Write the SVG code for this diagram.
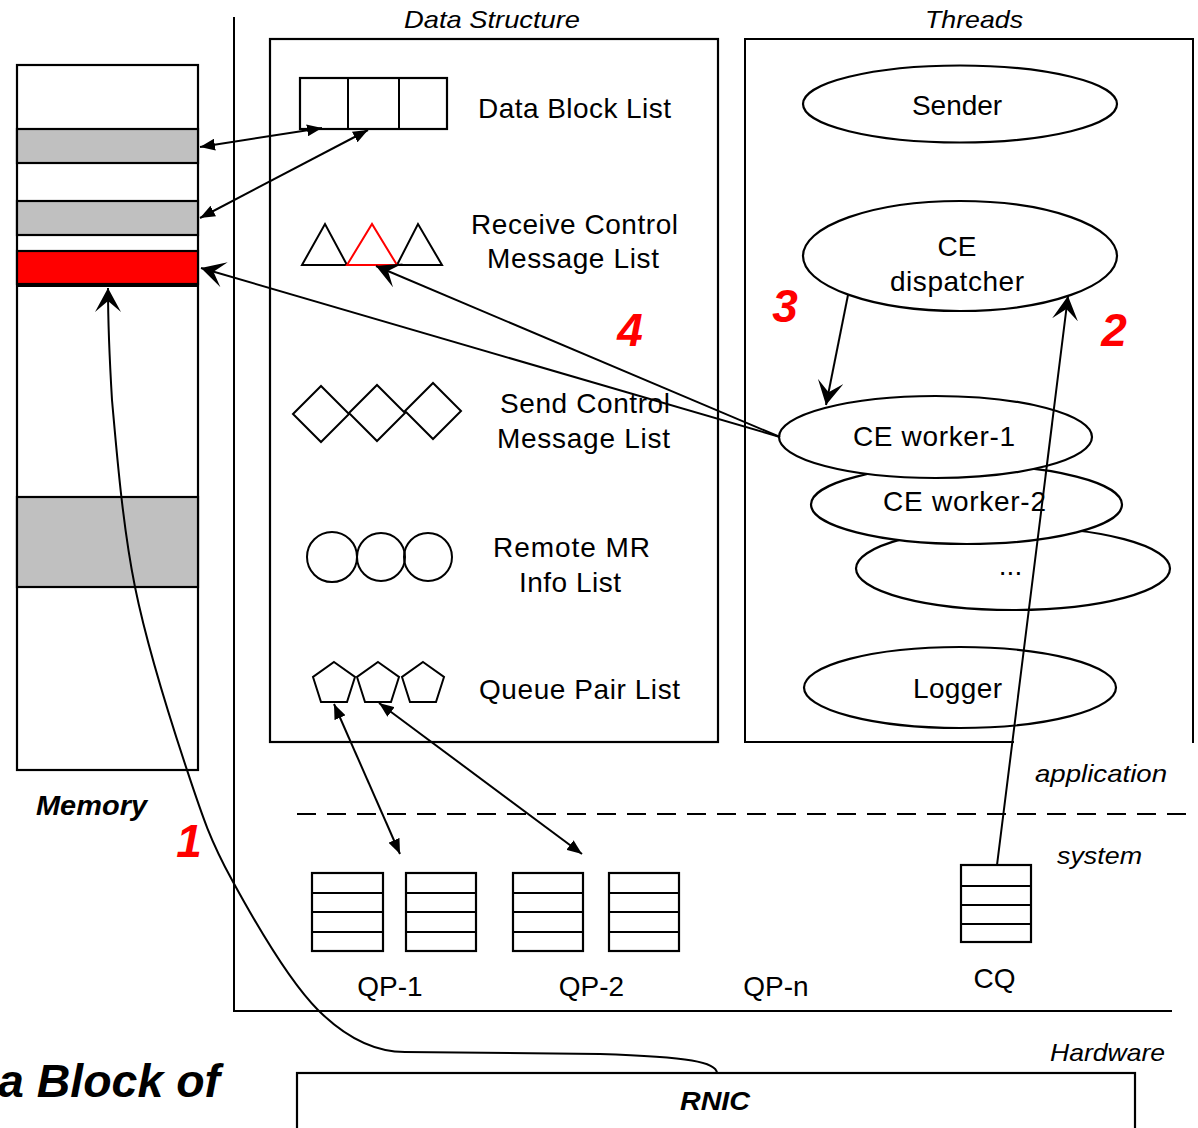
<svg xmlns="http://www.w3.org/2000/svg" width="1198" height="1128" viewBox="0 0 1198 1128">
<style>
.ln{fill:none;stroke:#000;stroke-width:2}
.bx{fill:#fff;stroke:#000;stroke-width:2.2}
.t{font-family:"Liberation Sans",Arial,sans-serif;font-size:28px;fill:#000;text-anchor:middle}
.ti{font-family:"Liberation Sans",Arial,sans-serif;font-size:24px;font-style:italic;fill:#000;text-anchor:middle}
.tb{font-family:"Liberation Sans",Arial,sans-serif;font-weight:bold;font-style:italic;fill:#000}
.num{font-family:"Liberation Sans",Arial,sans-serif;font-weight:bold;font-style:italic;font-size:46px;fill:#f00;text-anchor:middle}
</style>
<defs>
<marker id="blk" viewBox="0 0 15 12" refX="15" refY="6" markerWidth="15" markerHeight="12" markerUnits="userSpaceOnUse" orient="auto-start-reverse">
<path d="M0,0 L15,6 L0,12 Z" fill="#000"/>
</marker>
<marker id="stl" viewBox="0 0 24 26" refX="24" refY="13" markerWidth="24" markerHeight="26" markerUnits="userSpaceOnUse" orient="auto">
<path d="M24,13 L0,0 L11,13 L0,26 Z" fill="#000"/>
</marker>
</defs>
<rect width="1198" height="1128" fill="#fff"/>

<g id="frame">
<line class="ln" x1="234" y1="17" x2="234" y2="1011"/>
<line class="ln" x1="233" y1="1011" x2="1172" y2="1011"/>
<line class="ln" x1="297" y1="814" x2="1190" y2="814" stroke-dasharray="19,11"/>
</g>

<g id="memory">
<rect class="bx" x="17" y="65" width="181" height="705"/>
<rect x="17" y="129" width="181" height="34" fill="#c0c0c0" stroke="#000" stroke-width="2.2"/>
<rect x="17" y="201" width="181" height="34" fill="#c0c0c0" stroke="#000" stroke-width="2.2"/>
<rect x="17" y="251" width="181" height="33" fill="#f00" stroke="#000" stroke-width="2.2"/>
<line class="ln" x1="17" y1="286" x2="198" y2="286"/>
<rect x="17" y="497" width="181" height="90" fill="#c0c0c0" stroke="#000" stroke-width="2.2"/>
<text class="tb" x="91.5" y="815" font-size="27" text-anchor="middle" textLength="111" lengthAdjust="spacingAndGlyphs">Memory</text>
</g>

<g id="data-structure">
<rect class="bx" x="270" y="39" width="448" height="703"/>
<text class="ti" x="492" y="28" textLength="176" lengthAdjust="spacingAndGlyphs">Data Structure</text>
</g>

<g id="data-block-list">
<rect class="bx" x="300" y="78" width="147" height="51"/>
<line class="ln" x1="348" y1="78" x2="348" y2="129"/>
<line class="ln" x1="399" y1="78" x2="399" y2="129"/>
<text class="t" x="574.5" y="118" textLength="193">Data Block List</text>
</g>

<g id="receive-control-list">
<path class="ln" d="M302,265 L325,224 L347,265 Z"/>
<path class="ln" d="M397,265 L418,224 L442,265 Z"/>
<path d="M347,265 L372,224 L397,265 Z" fill="none" stroke="#f00" stroke-width="2"/>
<text class="t" x="574.5" y="234" textLength="207">Receive Control</text>
<text class="t" x="573" y="268" textLength="172">Message List</text>
</g>

<g id="send-control-list">
<path class="ln" d="M293,414 L321,386 L349,414 L321,442 Z"/>
<path class="ln" d="M349,413 L377,385 L405,413 L377,441 Z"/>
<path class="ln" d="M405,411 L433,383 L461,411 L433,439 Z"/>
<text class="t" x="585" y="413" textLength="170">Send Control</text>
<text class="t" x="583.5" y="448" textLength="173">Message List</text>
</g>

<g id="remote-mr-list">
<circle class="ln" cx="332" cy="557" r="25"/>
<circle class="ln" cx="381" cy="557" r="24"/>
<circle class="ln" cx="428" cy="557" r="24"/>
<text class="t" x="571.5" y="557" textLength="157">Remote MR</text>
<text class="t" x="570" y="592" textLength="102">Info List</text>
</g>

<g id="queue-pair-list">
<path class="ln" d="M334,662 L355,677 L347,702 L321,702 L313,677 Z"/>
<path class="ln" d="M378,662 L399,677 L391,702 L365,702 L357,677 Z"/>
<path class="ln" d="M423,662 L444,677 L436,702 L410,702 L402,677 Z"/>
<text class="t" x="579.5" y="699" textLength="201">Queue Pair List</text>
</g>

<g id="threads">
<path class="ln" d="M1014,742 L745,742 L745,39 L1193,39 L1193,743" stroke-width="2.2"/>
<text class="ti" x="974" y="28" textLength="98" lengthAdjust="spacingAndGlyphs">Threads</text>
</g>

<g id="sender">
<ellipse class="bx" cx="960" cy="104" rx="157" ry="38.5"/>
<text class="t" x="957" y="115" textLength="90">Sender</text>
</g>

<g id="ce-dispatcher">
<ellipse class="bx" cx="960" cy="256" rx="157" ry="55"/>
<text class="t" x="957" y="256">CE</text>
<text class="t" x="957" y="291" textLength="134">dispatcher</text>
</g>

<g id="ce-worker-n">
<ellipse class="bx" cx="1013" cy="568.5" rx="157" ry="41.5"/>
<text class="t" x="1010.5" y="575">...</text>
</g>

<g id="ce-worker-2">
<ellipse class="bx" cx="966.5" cy="504.5" rx="155.5" ry="39.5"/>
<text class="t" x="964.5" y="511" textLength="163">CE worker-2</text>
</g>

<g id="ce-worker-1">
<ellipse class="bx" cx="935.5" cy="437" rx="156.5" ry="41"/>
<text class="t" x="934" y="446" textLength="162">CE worker-1</text>
</g>

<g id="logger">
<ellipse class="bx" cx="960" cy="687.5" rx="156" ry="40.5"/>
<text class="t" x="957.5" y="698" textLength="89">Logger</text>
</g>

<g id="layer-labels">
<text class="ti" x="1101" y="782" textLength="132" lengthAdjust="spacingAndGlyphs">application</text>
<text class="ti" x="1099.5" y="864" textLength="85" lengthAdjust="spacingAndGlyphs">system</text>
<text class="ti" x="1107.5" y="1061" font-size="26" textLength="115" lengthAdjust="spacingAndGlyphs">Hardware</text>
</g>

<g id="qp-1">
<rect class="bx" x="312" y="873" width="71" height="78"/>
<line class="ln" x1="312" y1="893" x2="383" y2="893"/>
<line class="ln" x1="312" y1="912" x2="383" y2="912"/>
<line class="ln" x1="312" y1="932" x2="383" y2="932"/>
<rect class="bx" x="406" y="873" width="70" height="78"/>
<line class="ln" x1="406" y1="893" x2="476" y2="893"/>
<line class="ln" x1="406" y1="912" x2="476" y2="912"/>
<line class="ln" x1="406" y1="932" x2="476" y2="932"/>
<text class="t" x="390" y="996">QP-1</text>
</g>

<g id="qp-2">
<rect class="bx" x="513" y="873" width="70" height="78"/>
<line class="ln" x1="513" y1="893" x2="583" y2="893"/>
<line class="ln" x1="513" y1="912" x2="583" y2="912"/>
<line class="ln" x1="513" y1="932" x2="583" y2="932"/>
<rect class="bx" x="609" y="873" width="70" height="78"/>
<line class="ln" x1="609" y1="893" x2="679" y2="893"/>
<line class="ln" x1="609" y1="912" x2="679" y2="912"/>
<line class="ln" x1="609" y1="932" x2="679" y2="932"/>
<text class="t" x="591.5" y="996">QP-2</text>
</g>

<g id="qp-n">
<text class="t" x="776" y="996">QP-n</text>
</g>

<g id="cq">
<rect class="bx" x="961" y="865" width="70" height="77"/>
<line class="ln" x1="961" y1="886" x2="1031" y2="886"/>
<line class="ln" x1="961" y1="905" x2="1031" y2="905"/>
<line class="ln" x1="961" y1="924" x2="1031" y2="924"/>
<text class="t" x="994.5" y="988">CQ</text>
</g>

<g id="rnic">
<rect class="bx" x="297" y="1073" width="838" height="80"/>
<text class="tb" x="715" y="1110" font-size="26" text-anchor="middle" textLength="70" lengthAdjust="spacingAndGlyphs">RNIC</text>
</g>

<g id="caption">
<text class="tb" x="-2" y="1097" font-size="46" textLength="222" lengthAdjust="spacingAndGlyphs">a Block of</text>
</g>

<g id="connectors">
<line class="ln" x1="200" y1="147" x2="322" y2="128" marker-start="url(#blk)" marker-end="url(#blk)"/>
<line class="ln" x1="200" y1="218" x2="368" y2="130" marker-start="url(#blk)" marker-end="url(#blk)"/>
<line class="ln" x1="780" y1="437" x2="201" y2="268" marker-end="url(#stl)"/>
<line class="ln" x1="780" y1="437" x2="376" y2="266" marker-end="url(#stl)"/>
<line class="ln" x1="848" y1="295" x2="826" y2="405" marker-end="url(#stl)"/>
<line class="ln" x1="997" y1="865" x2="1068" y2="296" marker-end="url(#stl)"/>
<line class="ln" x1="334" y1="704" x2="400" y2="854" marker-start="url(#blk)" marker-end="url(#blk)"/>
<line class="ln" x1="379" y1="703" x2="582" y2="854" marker-start="url(#blk)" marker-end="url(#blk)"/>
<path class="ln" d="M717,1073 C716,1062 690,1057 600,1054 L405,1052 C375,1052 346.8,1038.7 318,1010 C289.2,981.3 253.8,920 232,880 C210.2,840 203.2,818.8 187,770 C170.8,721.2 147.5,648.7 135,587 C122.5,525.3 116.5,449.8 112,400 C109,350 108,320 108,288" marker-end="url(#stl)"/>
</g>

<g id="step-labels">
<text class="num" x="189" y="857" font-size="40">1</text>
<text class="num" x="1114" y="346">2</text>
<text class="num" x="785" y="322">3</text>
<text class="num" x="630" y="346">4</text>
</g>
</svg>
